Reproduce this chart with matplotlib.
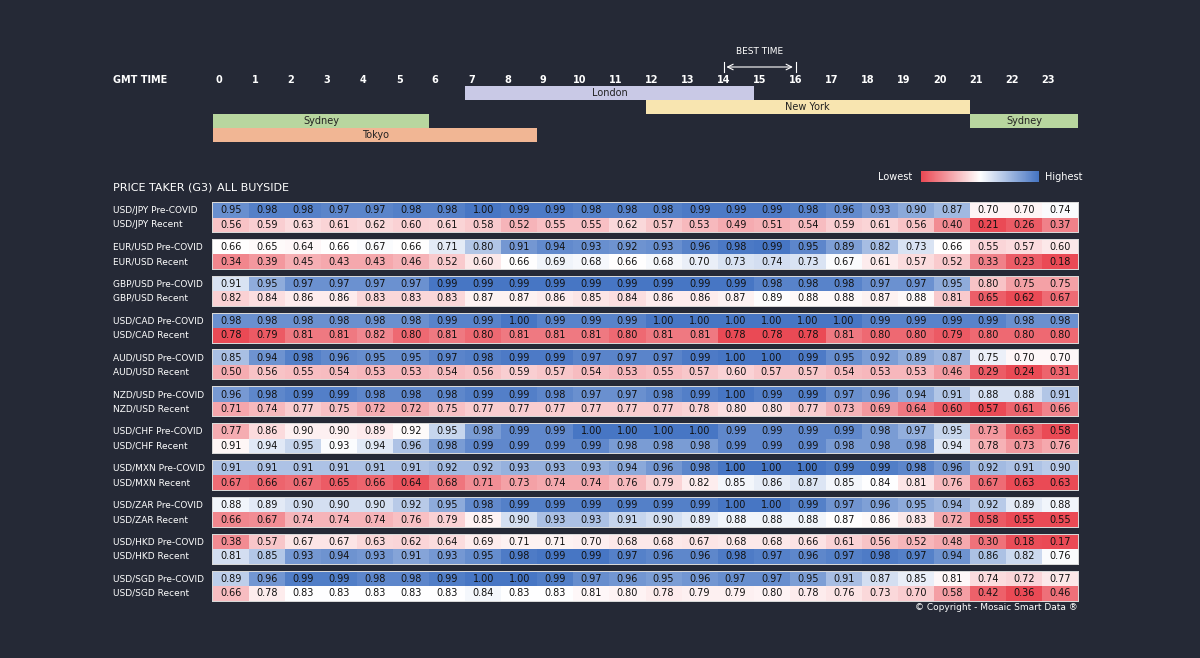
import matplotlib.pyplot as plt
import numpy as np
import matplotlib
from matplotlib.colors import LinearSegmentedColormap, TwoSlopeNorm
from matplotlib.patches import Rectangle

hours = list(range(24))
pairs = ["USD/JPY", "EUR/USD", "GBP/USD", "USD/CAD", "AUD/USD", "NZD/USD",
         "USD/CHF", "USD/MXN", "USD/ZAR", "USD/HKD", "USD/SGD"]

pre_covid = [
    [0.95, 0.98, 0.98, 0.97, 0.97, 0.98, 0.98, 1.00, 0.99, 0.99, 0.98, 0.98, 0.98, 0.99, 0.99, 0.99, 0.98, 0.96, 0.93, 0.90, 0.87, 0.70, 0.70, 0.74],
    [0.66, 0.65, 0.64, 0.66, 0.67, 0.66, 0.71, 0.80, 0.91, 0.94, 0.93, 0.92, 0.93, 0.96, 0.98, 0.99, 0.95, 0.89, 0.82, 0.73, 0.66, 0.55, 0.57, 0.60],
    [0.91, 0.95, 0.97, 0.97, 0.97, 0.97, 0.99, 0.99, 0.99, 0.99, 0.99, 0.99, 0.99, 0.99, 0.99, 0.98, 0.98, 0.98, 0.97, 0.97, 0.95, 0.80, 0.75, 0.75],
    [0.98, 0.98, 0.98, 0.98, 0.98, 0.98, 0.99, 0.99, 1.00, 0.99, 0.99, 0.99, 1.00, 1.00, 1.00, 1.00, 1.00, 1.00, 0.99, 0.99, 0.99, 0.99, 0.98, 0.98],
    [0.85, 0.94, 0.98, 0.96, 0.95, 0.95, 0.97, 0.98, 0.99, 0.99, 0.97, 0.97, 0.97, 0.99, 1.00, 1.00, 0.99, 0.95, 0.92, 0.89, 0.87, 0.75, 0.70, 0.70],
    [0.96, 0.98, 0.99, 0.99, 0.98, 0.98, 0.98, 0.99, 0.99, 0.98, 0.97, 0.97, 0.98, 0.99, 1.00, 0.99, 0.99, 0.97, 0.96, 0.94, 0.91, 0.88, 0.88, 0.91],
    [0.77, 0.86, 0.90, 0.90, 0.89, 0.92, 0.95, 0.98, 0.99, 0.99, 1.00, 1.00, 1.00, 1.00, 0.99, 0.99, 0.99, 0.99, 0.98, 0.97, 0.95, 0.73, 0.63, 0.58],
    [0.91, 0.91, 0.91, 0.91, 0.91, 0.91, 0.92, 0.92, 0.93, 0.93, 0.93, 0.94, 0.96, 0.98, 1.00, 1.00, 1.00, 0.99, 0.99, 0.98, 0.96, 0.92, 0.91, 0.90],
    [0.88, 0.89, 0.90, 0.90, 0.90, 0.92, 0.95, 0.98, 0.99, 0.99, 0.99, 0.99, 0.99, 0.99, 1.00, 1.00, 0.99, 0.97, 0.96, 0.95, 0.94, 0.92, 0.89, 0.88],
    [0.38, 0.57, 0.67, 0.67, 0.63, 0.62, 0.64, 0.69, 0.71, 0.71, 0.70, 0.68, 0.68, 0.67, 0.68, 0.68, 0.66, 0.61, 0.56, 0.52, 0.48, 0.30, 0.18, 0.17],
    [0.89, 0.96, 0.99, 0.99, 0.98, 0.98, 0.99, 1.00, 1.00, 0.99, 0.97, 0.96, 0.95, 0.96, 0.97, 0.97, 0.95, 0.91, 0.87, 0.85, 0.81, 0.74, 0.72, 0.77],
]
recent = [
    [0.56, 0.59, 0.63, 0.61, 0.62, 0.60, 0.61, 0.58, 0.52, 0.55, 0.55, 0.62, 0.57, 0.53, 0.49, 0.51, 0.54, 0.59, 0.61, 0.56, 0.40, 0.21, 0.26, 0.37],
    [0.34, 0.39, 0.45, 0.43, 0.43, 0.46, 0.52, 0.60, 0.66, 0.69, 0.68, 0.66, 0.68, 0.70, 0.73, 0.74, 0.73, 0.67, 0.61, 0.57, 0.52, 0.33, 0.23, 0.18],
    [0.82, 0.84, 0.86, 0.86, 0.83, 0.83, 0.83, 0.87, 0.87, 0.86, 0.85, 0.84, 0.86, 0.86, 0.87, 0.89, 0.88, 0.88, 0.87, 0.88, 0.81, 0.65, 0.62, 0.67],
    [0.78, 0.79, 0.81, 0.81, 0.82, 0.80, 0.81, 0.80, 0.81, 0.81, 0.81, 0.80, 0.81, 0.81, 0.78, 0.78, 0.78, 0.81, 0.80, 0.80, 0.79, 0.80, 0.80, 0.80],
    [0.50, 0.56, 0.55, 0.54, 0.53, 0.53, 0.54, 0.56, 0.59, 0.57, 0.54, 0.53, 0.55, 0.57, 0.60, 0.57, 0.57, 0.54, 0.53, 0.53, 0.46, 0.29, 0.24, 0.31],
    [0.71, 0.74, 0.77, 0.75, 0.72, 0.72, 0.75, 0.77, 0.77, 0.77, 0.77, 0.77, 0.77, 0.78, 0.80, 0.80, 0.77, 0.73, 0.69, 0.64, 0.60, 0.57, 0.61, 0.66],
    [0.91, 0.94, 0.95, 0.93, 0.94, 0.96, 0.98, 0.99, 0.99, 0.99, 0.99, 0.98, 0.98, 0.98, 0.99, 0.99, 0.99, 0.98, 0.98, 0.98, 0.94, 0.78, 0.73, 0.76],
    [0.67, 0.66, 0.67, 0.65, 0.66, 0.64, 0.68, 0.71, 0.73, 0.74, 0.74, 0.76, 0.79, 0.82, 0.85, 0.86, 0.87, 0.85, 0.84, 0.81, 0.76, 0.67, 0.63, 0.63],
    [0.66, 0.67, 0.74, 0.74, 0.74, 0.76, 0.79, 0.85, 0.90, 0.93, 0.93, 0.91, 0.90, 0.89, 0.88, 0.88, 0.88, 0.87, 0.86, 0.83, 0.72, 0.58, 0.55, 0.55],
    [0.81, 0.85, 0.93, 0.94, 0.93, 0.91, 0.93, 0.95, 0.98, 0.99, 0.99, 0.97, 0.96, 0.96, 0.98, 0.97, 0.96, 0.97, 0.98, 0.97, 0.94, 0.86, 0.82, 0.76],
    [0.66, 0.78, 0.83, 0.83, 0.83, 0.83, 0.83, 0.84, 0.83, 0.83, 0.81, 0.80, 0.78, 0.79, 0.79, 0.80, 0.78, 0.76, 0.73, 0.70, 0.58, 0.42, 0.36, 0.46],
]

# trading sessions: (name, start hour, end hour, lane, colour)
sessions = [("London", 7, 15, 0, "#c9c9e6"), ("New York", 12, 21, 1, "#f8e5b0"),
            ("Sydney", 0, 6, 2, "#b8d69f"), ("Sydney", 21, 24, 2, "#b8d69f"),
            ("Tokyo", 0, 9, 3, "#f1b694")]
best_time = (14, 16)

BG = "#252936"
X0 = 213.  # left edge of hour 0 in pixels
CW = (1078. - 213.) / 24  # cell width
RH = 14.5  # row height


def hx(h):
    return X0 + CW * h


def draw_sessions(ax):
    ax.text(113, 80, "GMT TIME", color="white", fontsize=7, fontweight="bold", va="center")
    for h in hours:
        ax.text(hx(h) + 6, 80, str(h), color="white", fontsize=7, fontweight="bold", ha="center", va="center")
    for name, s, e, lane, col in sessions:
        y = 86 + lane * 14
        ax.add_patch(Rectangle((hx(s), y), hx(e) - hx(s), 13.5, facecolor=col, edgecolor="none"))
        ax.text((hx(s) + hx(e)) / 2, y + 7, name, fontsize=7, ha="center", va="center", color="#222222")
    b0, b1 = hx(best_time[0]) + 6, hx(best_time[1]) + 6
    ax.annotate("", xy=(b0, 67), xytext=(b1, 67), arrowprops=dict(arrowstyle="<->", color="white", lw=0.8))
    ax.plot([b0, b0], [62, 72], color="white", lw=0.8)
    ax.plot([b1, b1], [62, 72], color="white", lw=0.8)
    ax.text((b0 + b1) / 2, 52, "BEST TIME", color="white", fontsize=6.5, ha="center", va="center")


def draw_table(ax, cmap):
    ax.text(113, 188, "PRICE TAKER (G3)", color="white", fontsize=8, va="center")
    ax.text(217, 188, "ALL BUYSIDE", color="white", fontsize=8, va="center")
    xe = hx(np.arange(25))
    for i, pair in enumerate(pairs):
        block = np.array([pre_covid[i], recent[i]])
        norm = TwoSlopeNorm(vcenter=block.mean(), vmin=block.min(), vmax=block.max())
        top = 203 + i * 36.85
        ax.add_patch(Rectangle((X0 - 1, top - 1), hx(24) - X0 + 2, 2 * RH + 2,
                               facecolor="#d8d8d8", edgecolor="none"))
        for r, (lab, vals) in enumerate([(" Pre-COVID", pre_covid[i]), (" Recent", recent[i])]):
            y0 = top + r * RH
            ax.pcolormesh(xe, [y0, y0 + RH], np.array([vals]), cmap=cmap, norm=norm)
            ax.text(113, y0 + RH / 2, pair + lab, color="white", fontsize=6.5, va="center")
            for h, v in zip(hours, vals):
                ax.text(hx(h) + CW / 2, y0 + RH / 2, "%.2f" % v, fontsize=7, ha="center", va="center", color="#111111")


def draw_legend(ax, cmap):
    ax.text(912, 177, "Lowest", color="white", fontsize=7, ha="right", va="center")
    ax.imshow(np.linspace(0, 1, 100)[None, :], cmap=cmap, extent=(921, 1039, 182, 171), aspect="auto")
    ax.text(1045, 177, "Highest", color="white", fontsize=7, ha="left", va="center")
    ax.text(1078, 608, "\u00a9 Copyright - Mosaic Smart Data \u00ae", color="white", fontsize=6.5, ha="right", va="center")


def main():
    cmap = LinearSegmentedColormap.from_list("lowhigh", ["#ea4a55", "#ffffff", "#4776c4"])
    fig = plt.figure(figsize=(12, 6.58), dpi=100, facecolor=BG)
    ax = fig.add_axes([0, 0, 1, 1])
    ax.set_facecolor(BG)
    ax.set_xlim(0, 1200)
    ax.set_ylim(658, 0)
    ax.axis("off")

    draw_sessions(ax)
    draw_table(ax, cmap)
    draw_legend(ax, cmap)

    plt.savefig("out.png", facecolor=BG)


if __name__ == "__main__":
    main()
